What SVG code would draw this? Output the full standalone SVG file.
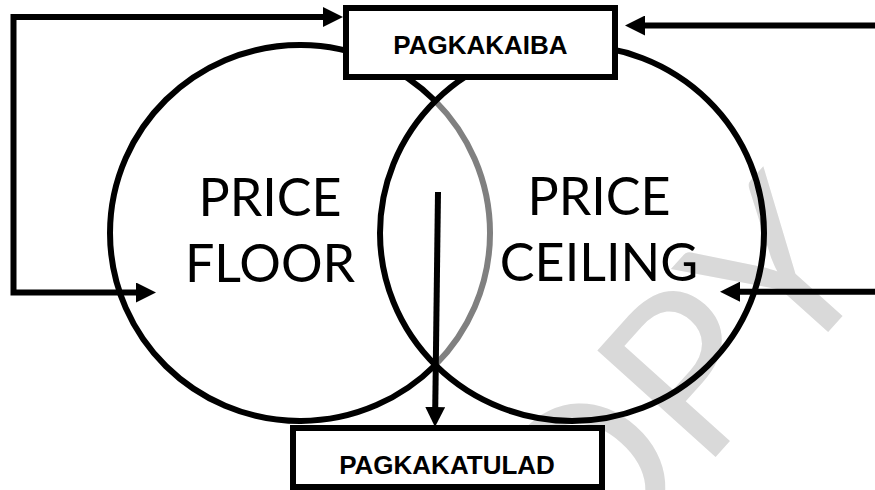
<svg xmlns="http://www.w3.org/2000/svg" width="875" height="490" viewBox="0 0 875 490">
  <style>
    .ring { fill: none; stroke: #000; stroke-width: 6; }
    .lens { fill: none; stroke: #808080; stroke-width: 6; }
    .box { fill: #fff; stroke: #000; stroke-width: 6; }
    .boxtxt { font-family: "Liberation Sans", Arial, sans-serif; font-weight: bold; font-size: 26px; fill: #000; text-anchor: middle; }
    .bigtxt { font-family: Lato, "Open Sans", sans-serif; font-size: 52px; fill: #000; text-anchor: middle; }
    .conn { fill: none; stroke: #000; stroke-width: 6; stroke-linejoin: miter; }
    .wm { font-family: Lato, "Open Sans", sans-serif; font-size: 222px; fill: #d9d9d9; }
  </style>
  <defs>
    <marker id="arrow" markerUnits="userSpaceOnUse" viewBox="0 0 20 20" markerWidth="20" markerHeight="20" refX="12" refY="10" orient="auto-start-reverse">
      <path d="M0,0 L20,10 L0,20 z" fill="#000"/>
    </marker>
  </defs>

  <g id="watermark">
    <text class="wm" x="0" y="0" transform="translate(486,712) rotate(-48)">COPY</text>
  </g>

  <g id="price-floor">
    <path class="ring" d="M435.3,101 A190,188 0 1 0 435.3,365"/>
    <path class="lens" d="M435.3,101 A190,188 0 0 1 435.3,365"/>
    <text class="bigtxt" x="270" y="216">PRICE</text>
    <text class="bigtxt" x="270" y="282">FLOOR</text>
  </g>

  <g id="price-ceiling">
    <ellipse class="ring" cx="572" cy="233" rx="192" ry="188"/>
    <text class="bigtxt" x="599" y="215">PRICE</text>
    <text class="bigtxt" x="599" y="281">CEILING</text>
  </g>

  <g id="pagkakaiba">
    <rect class="box" x="346" y="8" width="269" height="69"/>
    <text class="boxtxt" x="480.5" y="54">PAGKAKAIBA</text>
  </g>

  <g id="pagkakatulad">
    <rect class="box" x="293" y="428" width="309" height="59"/>
    <text class="boxtxt" x="447" y="474">PAGKAKATULAD</text>
  </g>

  <g id="connectors">
    <polyline class="conn" points="148,292.5 13.5,292.5 13.5,17 335,17" marker-start="url(#arrow)" marker-end="url(#arrow)"/>
    <line class="conn" x1="875" y1="25.5" x2="633" y2="25.5" marker-end="url(#arrow)"/>
    <line class="conn" x1="875" y1="291.7" x2="728" y2="291.7" marker-end="url(#arrow)"/>
    <line class="conn" x1="438" y1="192" x2="435.1" y2="419" marker-end="url(#arrow)"/>
  </g>
</svg>
